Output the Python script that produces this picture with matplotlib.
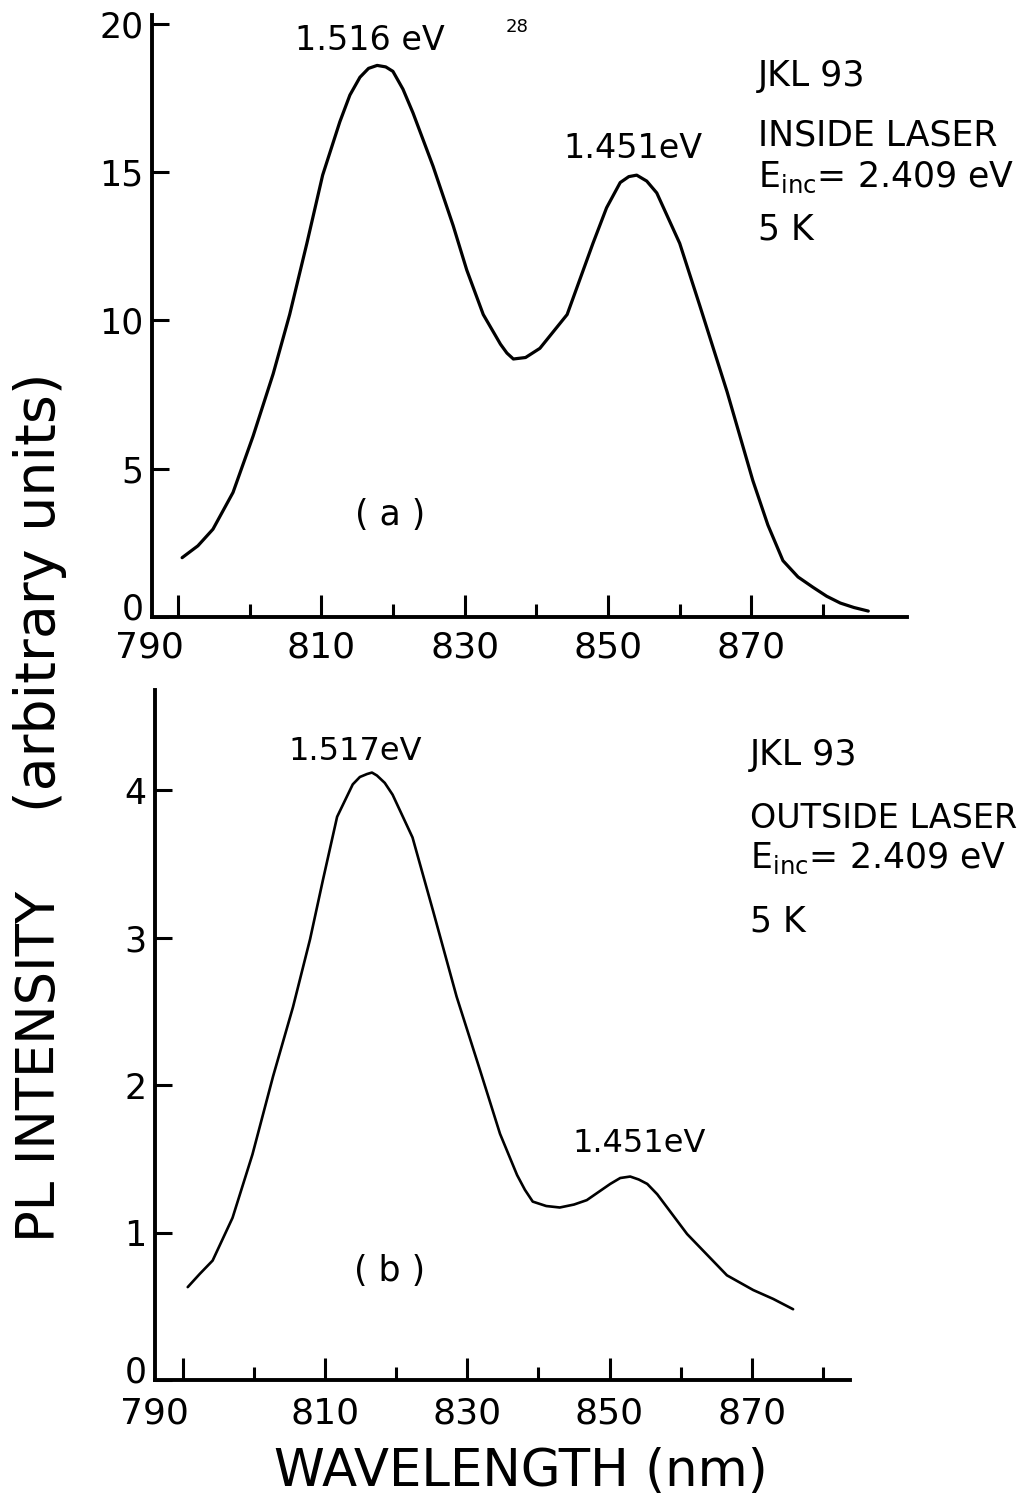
import matplotlib
matplotlib.use("Agg")
import matplotlib.pyplot as plt
from matplotlib.transforms import ScaledTranslation

# panel (a): inside laser
wl_a = [790.6, 792.8, 794.9, 797.7, 800.5, 803.3, 805.6, 808.0, 810.2, 812.6,
        814.0, 815.4, 816.6, 817.8, 819.0, 820.0, 821.4, 822.8, 825.6, 828.4,
        830.3, 832.6, 835.0, 835.9, 836.8, 838.5, 840.5, 844.3, 847.9, 849.8,
        851.7, 852.9, 854.0, 855.4, 856.8, 860.0, 862.8, 866.6, 870.2, 872.3,
        874.4, 876.5, 878.6, 880.5, 882.4, 884.3, 886.3]
pl_a = [2.0, 2.4, 2.96, 4.2, 6.1, 8.2, 10.2, 12.6, 14.9, 16.7,
        17.6, 18.2, 18.5, 18.6, 18.55, 18.4, 17.8, 17.0, 15.2, 13.2,
        11.7, 10.2, 9.2, 8.9, 8.7, 8.75, 9.06, 10.2, 12.6, 13.8,
        14.65, 14.85, 14.9, 14.7, 14.3, 12.6, 10.5, 7.6, 4.6, 3.1,
        1.9, 1.35, 1.0, 0.7, 0.47, 0.32, 0.2]

# panel (b): outside laser
wl_b = [790.7, 792.4, 794.2, 797.0, 799.8, 802.7, 805.5, 807.9, 809.7, 811.7,
        813.9, 814.9, 815.9, 816.6, 817.3, 818.4, 819.5, 822.3, 825.2, 828.5,
        831.8, 834.6, 837.0, 838.1, 839.2, 841.1, 843.0, 845.0, 846.8, 850.1,
        851.5, 852.9, 854.1, 855.3, 856.7, 858.1, 860.9, 863.7, 866.5, 870.2,
        873.0, 875.8]
pl_b = [0.63, 0.72, 0.81, 1.10, 1.53, 2.06, 2.53, 2.99, 3.39, 3.82,
        4.04, 4.09, 4.11, 4.12, 4.10, 4.05, 3.97, 3.68, 3.18, 2.60,
        2.10, 1.67, 1.39, 1.29, 1.21, 1.18, 1.17, 1.19, 1.22, 1.33,
        1.37, 1.38, 1.36, 1.33, 1.26, 1.17, 0.99, 0.85, 0.71, 0.61,
        0.55, 0.48]

major_x = [790, 810, 830, 850, 870]
minor_x = [800, 820, 840, 860, 880]
yticks_a = [0, 5, 10, 15, 20]
yticks_b = [0, 1, 2, 3, 4]

W, H = 1032, 1503
plt.rcParams["font.family"] = ["DejaVu Sans"]
fig = plt.figure(figsize=(W / 100, H / 100), dpi=100)


def px(x, y):
    return x / W, 1 - y / H


def make_axes(rect, xlim, ylim, yticks, lw_curve, wl, pl, xpad):
    ax = fig.add_axes(rect)
    ax.plot(wl, pl, color="black", lw=lw_curve, solid_capstyle="round",
            solid_joinstyle="round")
    ax.set_xlim(*xlim)
    ax.set_ylim(*ylim)
    for s in ("top", "right"):
        ax.spines[s].set_visible(False)
    for s in ("left", "bottom"):
        ax.spines[s].set_linewidth(2.8)
    ax.set_xticks(major_x)
    ax.set_xticks(minor_x, minor=True)
    ax.set_yticks(yticks)
    ax.tick_params(axis="x", which="major", direction="in", length=16, width=2.2,
                   labelsize=26, pad=xpad)
    ax.tick_params(axis="x", which="minor", direction="in", length=9.5, width=2.2)
    ax.tick_params(axis="y", direction="in", length=12.5, width=2.2,
                   labelsize=25, pad=6)
    fig.canvas.draw()
    lab = ax.get_xticklabels()[0]
    lab.set_transform(lab.get_transform() + ScaledTranslation(-0.28, 0, fig.dpi_scale_trans))
    lab0 = ax.get_yticklabels()[0]
    lab0.set_transform(lab0.get_transform() + ScaledTranslation(0, 0.11, fig.dpi_scale_trans))
    return ax


# top axes: x 152..907 px, y 0 at 617, 20.3 at 15
ax_a = make_axes([152 / W, 1 - 617 / H, 755 / W, 602 / H],
                 (786.4, 891.7), (0, 20.3), yticks_a, 2.3, wl_a, pl_a, 10)
# bottom axes: x 155..850 px, y 0 at 1380, top at 690
ax_b = make_axes([155 / W, 1 - 1380 / H, 695 / W, 690 / H],
                 (786.1, 883.8), (0, 4.68), yticks_b, 1.9, wl_b, pl_b, 12)

txt = dict(color="black", ha="center", va="center")
fig.text(*px(370, 40), "1.516 eV", fontsize=24, **txt)
fig.text(*px(517, 27), "28", fontsize=13, **txt)
fig.text(*px(633, 149), "1.451eV", fontsize=24, **txt)
fig.text(*px(390, 515), "( a )", fontsize=25, **txt)
fig.text(*px(355, 752), "1.517eV", fontsize=23, **txt)
fig.text(*px(639, 1143), "1.451eV", fontsize=23, **txt)
fig.text(*px(390, 1271), "( b )", fontsize=25, **txt)

side = dict(color="black", ha="left", va="center", fontsize=25)
fig.text(*px(758, 76), "JKL 93", **side)
fig.text(*px(758, 135), "INSIDE LASER", **side)
fig.text(*px(758, 177), r"E$_{\mathrm{inc}}$= 2.409 eV", **side)
fig.text(*px(758, 229), "5 K", **side)

fig.text(*px(750, 755), "JKL 93", **side)
fig.text(*px(750, 819), "OUTSIDE LASER", color="black", ha="left",
         va="center", fontsize=24)
fig.text(*px(750, 858), r"E$_{\mathrm{inc}}$= 2.409 eV", **side)
fig.text(*px(750, 921), "5 K", **side)

fig.text(*px(40, 1242), "PL INTENSITY", rotation=90,
         fontsize=38, color="black", ha="center", va="bottom")
fig.text(*px(40, 372), "(arbitrary units)", rotation=90,
         fontsize=40, color="black", ha="center", va="top")
fig.text(*px(521, 1472), "WAVELENGTH (nm)", fontsize=37, **txt)

fig.savefig("out.png", dpi=100)
